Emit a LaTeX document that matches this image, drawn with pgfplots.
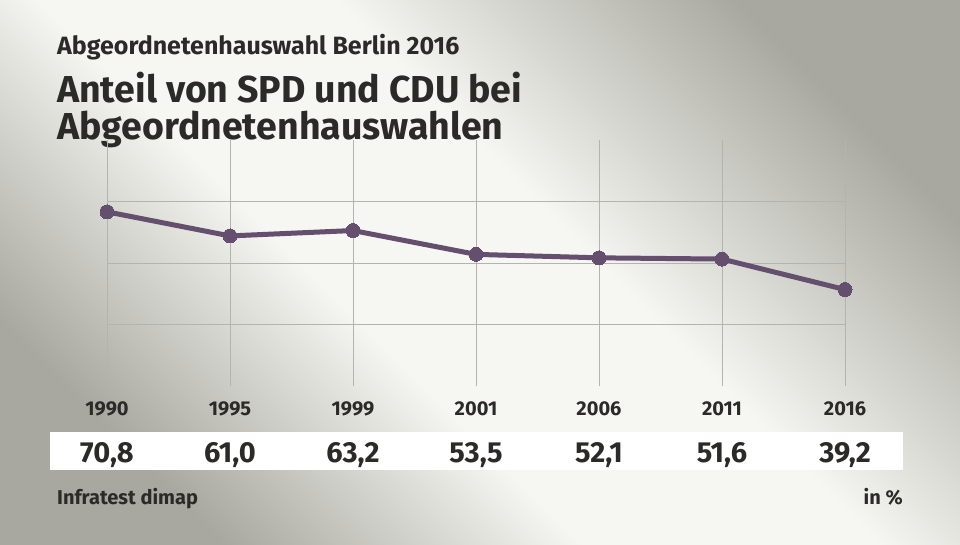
\documentclass[border=0pt]{standalone}
\usepackage{fontspec}
\setmainfont{Fira Sans}
\usepackage{pgfplots}
\pgfplotsset{compat=1.18}
\definecolor{linecol}{HTML}{64506E}
\definecolor{txt}{HTML}{2B2A28}
\definecolor{gridc}{HTML}{B4B4AE}
\definecolor{bglight}{HTML}{F6F6F2}
\definecolor{bgdark}{HTML}{A8A8A0}
% light diagonal band, dark towards the top-right and bottom-left corners
\pgfdeclareverticalshading{bgband}{100bp}{%
  color(0bp)=(bgdark); color(25bp)=(bgdark); color(42bp)=(bglight);
  color(56bp)=(bglight); color(75bp)=(bgdark); color(100bp)=(bgdark)}
\begin{document}
\begin{tikzpicture}[x=1pt,y=1pt]
\useasboundingbox (0,0) rectangle (960,544);
\shade[shading=bgband, shading angle=-45] (0,0) rectangle (960,544);

% titles
\node[anchor=base west, inner sep=0, text=txt, font=\bfseries\fontsize{25}{28}\selectfont] at (57,489) {Abgeordnetenhauswahl Berlin 2016};
\node[anchor=base west, inner sep=0, text=txt, font=\bfseries\fontsize{37.5}{40}\selectfont] at (57,441) {Anteil von SPD und CDU bei};
\node[anchor=base west, inner sep=0, text=txt, font=\bfseries\fontsize{37.5}{40}\selectfont] at (57,404) {Abgeordnetenhauswahlen};

% value strip
\fill[white] (50,74) rectangle (903,112);

\begin{axis}[
  at={(107pt,158pt)}, anchor=south west,
  scale only axis, width=738pt, height=246pt,
  xmin=0, xmax=6, ymin=0, ymax=100,
  axis line style={draw=none},
  tick style={draw=none},
  xtick={0,1,2,3,4,5,6},
  xticklabels={1990,1995,1999,2001,2006,2011,2016},
  ytick={25,50,75}, yticklabels={},
  xmajorgrids, ymajorgrids,
  grid style={gridc, line width=1pt},
  xticklabel style={anchor=base, yshift=-29pt, text=txt, font=\bfseries\fontsize{20}{20}\selectfont},
  clip=false,
]
\addplot[linecol, line width=5pt, mark=*, mark size=7pt, mark options={fill=linecol, draw=linecol, line width=0pt}]
  coordinates {(0,70.8) (1,61.0) (2,63.2) (3,53.5) (4,52.1) (5,51.6) (6,39.2)};
\end{axis}

% values
\foreach \i/\v in {0/{70,8},1/{61,0},2/{63,2},3/{53,5},4/{52,1},5/{51,6},6/{39,2}} {
  \node[anchor=base, inner sep=0, text=txt, font=\bfseries\fontsize{29}{29}\selectfont] at ({107+123*\i},82) {\v};
}

% footer
\node[anchor=base west, inner sep=0, text=txt, font=\bfseries\fontsize{20}{22}\selectfont] at (57,40) {Infratest dimap};
\node[anchor=base east, inner sep=0, text=txt, font=\bfseries\fontsize{20}{22}\selectfont] at (903,40) {in \%};
\end{tikzpicture}
\end{document}
